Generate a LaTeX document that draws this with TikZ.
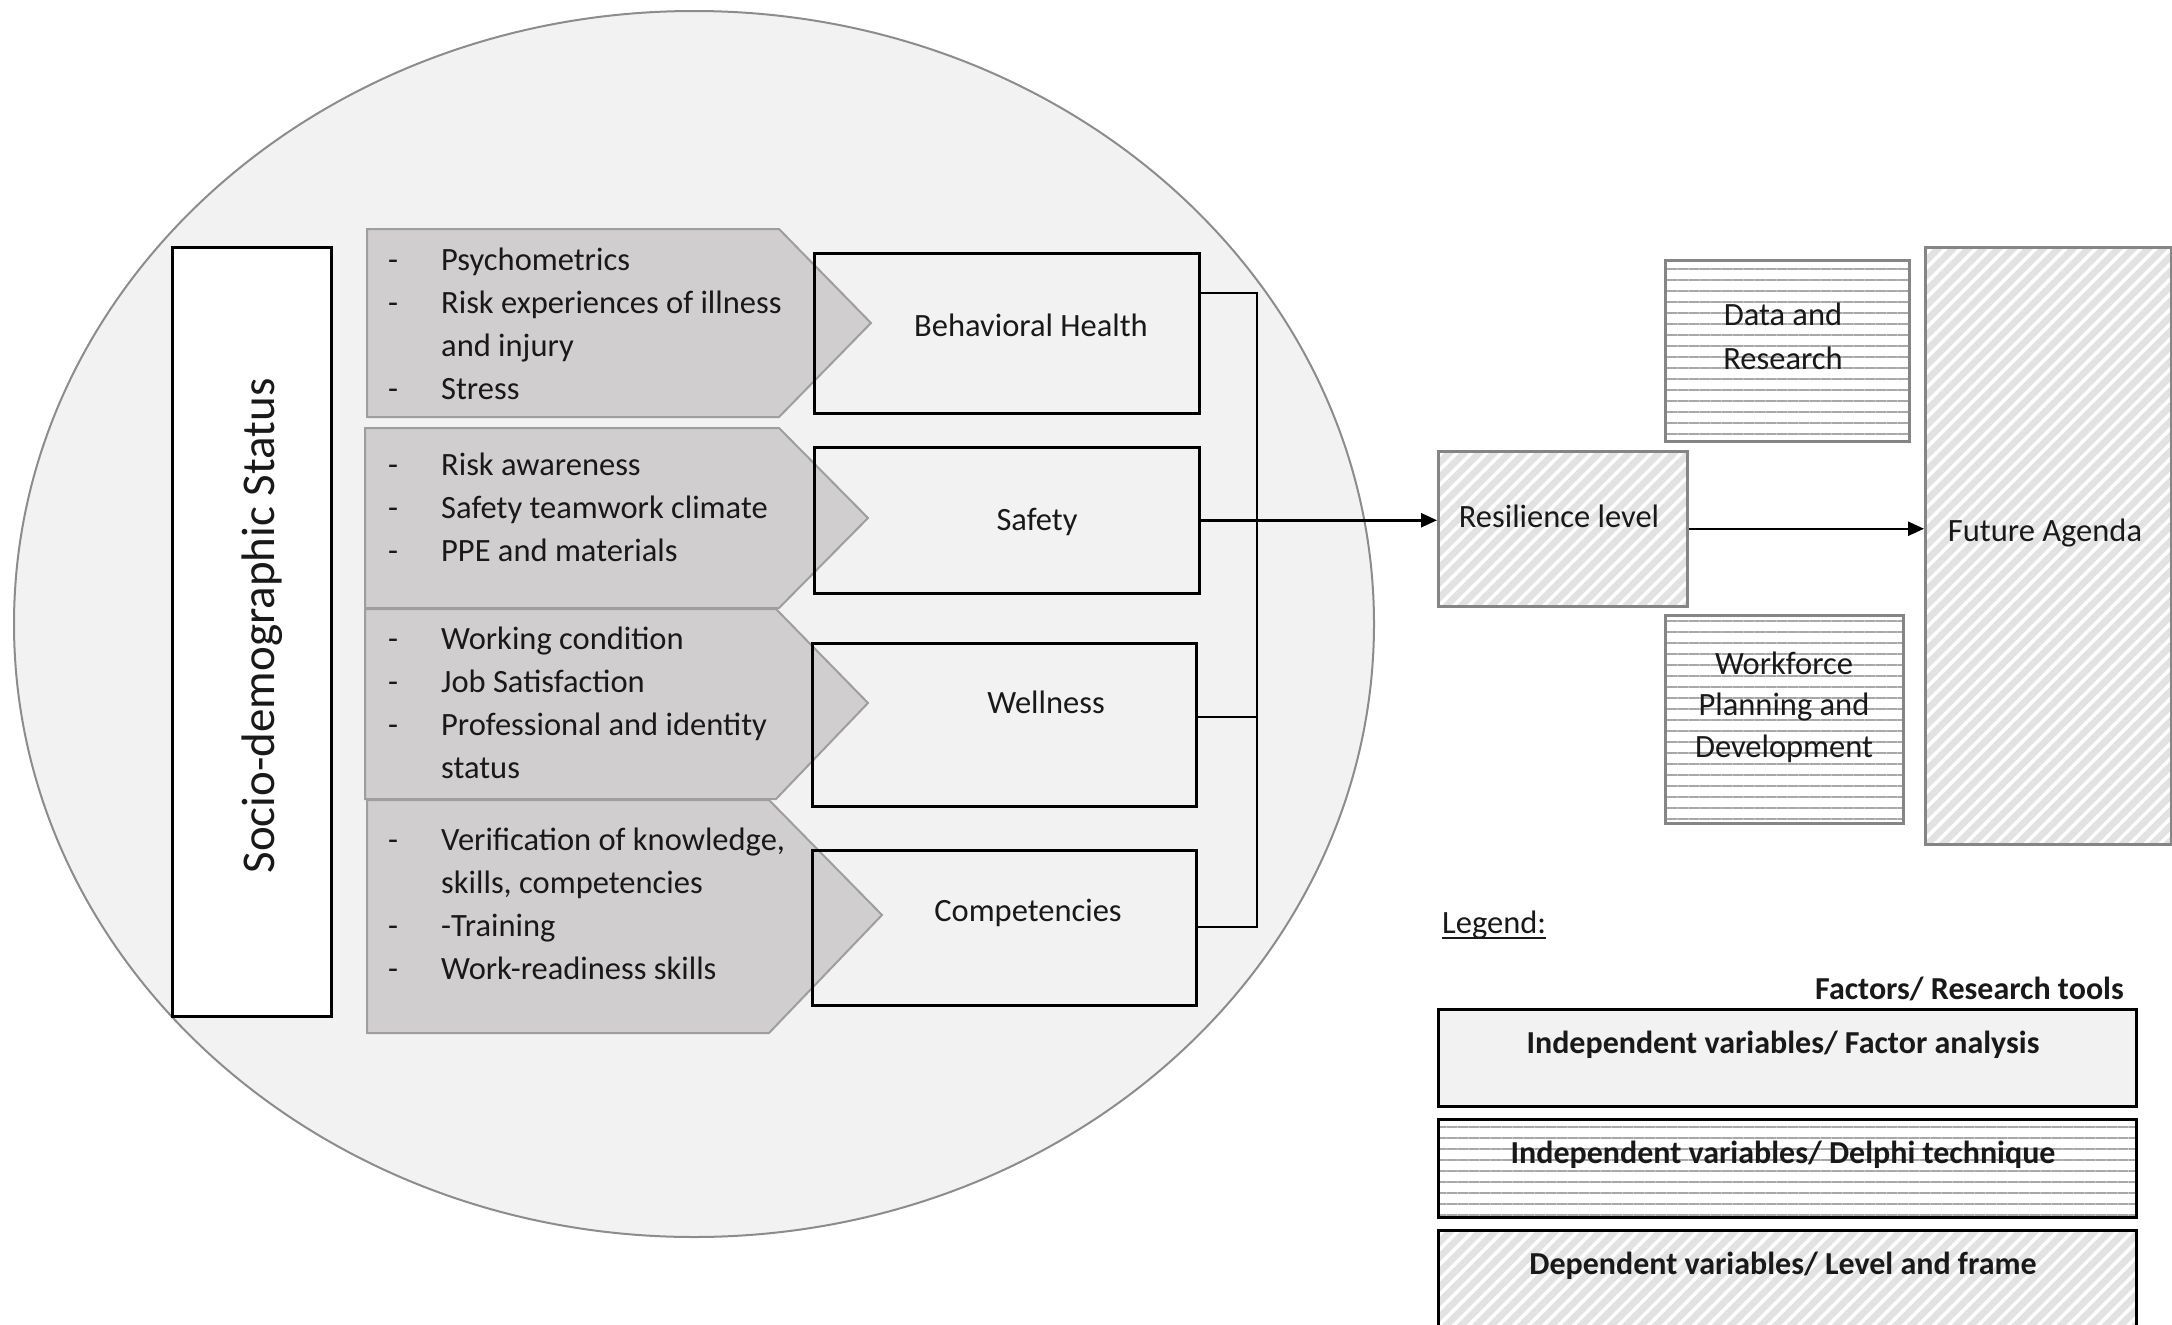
\documentclass[tikz,border=0pt]{standalone}
\usepackage{fontspec}
\setmainfont{Carlito}
\usetikzlibrary{arrows.meta,patterns.meta,shapes.geometric}
\definecolor{bgfill}{HTML}{F2F2F2}
\definecolor{chevfill}{HTML}{D0CECE}
\definecolor{chevline}{HTML}{9E9E9E}
\definecolor{ellline}{HTML}{8C8C8C}
\definecolor{hatchgray}{HTML}{E2E2E2}
\definecolor{hlinegray}{HTML}{A8A8A8}
\definecolor{boxgray}{HTML}{858585}
\newcommand{\legul}[1]{\setbox0\hbox{#1}\rlap{\rule[-6pt]{\wd0}{2pt}}\box0}
\tikzset{
  txt/.style={font=\fontsize{32.5}{43.3}\selectfont, inner sep=0pt, text=black!90},
  btxt/.style={font=\fontsize{32}{40}\selectfont\bfseries, inner sep=0pt, text=black!90},
  frame/.style={draw=black, line width=2.5pt, inner sep=0pt},
  chev/.style={fill=chevfill, draw=chevline, line width=2pt},
  diagbox/.style={preaction={fill=hatchgray}, pattern={Lines[angle=45,distance=10.6pt,line width=3.5pt]}, pattern color=white, line width=2.5pt, inner sep=0pt},
  horbox/.style={preaction={fill=white}, pattern={Lines[angle=0,distance=11pt,line width=2pt]}, pattern color=hlinegray, line width=2.5pt, inner sep=0pt},
  conn/.style={line width=2.5pt, draw=black, line join=miter},
  arr/.style={conn, -{Triangle[length=16pt,width=14pt]}},
}
\begin{document}
\begin{tikzpicture}[x=1pt,y=-1pt]
\useasboundingbox (0,0) rectangle (2172,1325);
% big ellipse
\node[ellipse, draw=ellline, fill=bgfill, line width=2pt, minimum width=1360pt, minimum height=1226pt, inner sep=0pt] (circ) at (694,624) {};
% socio-demographic box
\node[frame, fill=white, anchor=north west, minimum width=159pt, minimum height=769pt] (socio) at (171,246) {};
\node[txt, font=\fontsize{47}{56}\selectfont, rotate=90, anchor=base] (sociot) at (274,626) {Socio-demographic Status};
% chevrons
\draw[chev] (367,229) -- (779,229) -- (871,323) -- (779,417) -- (367,417) -- cycle;
\draw[chev] (365,428) -- (779,428) -- (868,518) -- (779,608) -- (365,608) -- cycle;
\draw[chev] (365,609) -- (776,609) -- (868,703) -- (776,799) -- (365,799) -- cycle;
\draw[chev] (367,800) -- (769,800) -- (882,915) -- (769,1033) -- (367,1033) -- cycle;
% bullet lists
\node[txt, anchor=base west] (l1) at (388,270) {\begin{tabular}[t]{@{}p{53pt}@{}l@{}}-&Psychometrics\\-&Risk experiences of illness\\&and injury\\-&Stress\end{tabular}};
\node[txt, anchor=base west] (l2) at (388,475) {\begin{tabular}[t]{@{}p{53pt}@{}l@{}}-&Risk awareness\\-&Safety teamwork climate\\-&PPE and materials\end{tabular}};
\node[txt, anchor=base west] (l3) at (388,649) {\begin{tabular}[t]{@{}p{53pt}@{}l@{}}-&Working condition\\-&Job Satisfaction\\-&Professional and identity\\&status\end{tabular}};
\node[txt, anchor=base west] (l4) at (388,850) {\begin{tabular}[t]{@{}p{53pt}@{}l@{}}-&Verification of knowledge,\\&skills, competencies\\-&-Training\\-&Work-readiness skills\end{tabular}};
% factor boxes
\node[frame, anchor=north west, minimum width=385pt, minimum height=160pt] (bh) at (813,252) {};
\node[frame, anchor=north west, minimum width=385pt, minimum height=146pt] (saf) at (813,446) {};
\node[frame, anchor=north west, minimum width=384pt, minimum height=163pt] (wel) at (811,642) {};
\node[frame, anchor=north west, minimum width=384pt, minimum height=155pt] (comp) at (811,849) {};
\node[txt, anchor=base] (bht) at (1031,336) {Behavioral Health};
\node[txt, anchor=base] (saft) at (1037,530) {Safety};
\node[txt, anchor=base] (welt) at (1046,713) {Wellness};
\node[txt, anchor=base] (compt) at (1028,921) {Competencies};
% right side boxes
\node[diagbox, draw=boxgray, anchor=north west, minimum width=249pt, minimum height=155pt] (res) at (1437,450) {};
\node[txt, anchor=base] (rest) at (1559,527) {Resilience level};
\node[diagbox, draw=boxgray, anchor=north west, minimum width=246pt, minimum height=597pt] (fut) at (1924,246) {};
\node[txt, anchor=base] (futt) at (2045,541) {Future Agenda};
\node[horbox, draw=boxgray, anchor=north west, minimum width=244pt, minimum height=181pt] (dat) at (1664,259) {};
\node[txt, font=\fontsize{32.5}{44}\selectfont, anchor=base] (datt) at (1783,325) {\begin{tabular}[t]{@{}c@{}}Data and\\Research\end{tabular}};
\node[horbox, draw=boxgray, anchor=north west, minimum width=238pt, minimum height=208pt] (wfp) at (1664,614) {};
\node[txt, font=\fontsize{32.5}{41.5}\selectfont, anchor=base] (wfpt) at (1784,674) {\begin{tabular}[t]{@{}c@{}}Workforce\\Planning and\\Development\end{tabular}};
% connectors
\coordinate (jt) at (1257,293);
\coordinate (jw) at (1257,717);
\coordinate (jb) at (1257,927);
\draw[conn] (bh.east |- jt) -- (jt) -- (jb) -- (comp.east |- jb);
\draw[conn] (wel.east |- jw) -- (jw);
\draw[arr] (saf.east) -- (saf.east -| res.west);
\draw[arr] (res.east) -- (res.east -| fut.west);
% legend
\node[txt, anchor=base west] (leg) at (1442,933) {\legul{Legend:}};
\node[btxt, anchor=base east] (legh) at (2124,999) {Factors/ Research tools};
\node[frame, fill=bgfill, anchor=north west, minimum width=698pt, minimum height=97pt] (lg1) at (1437,1008) {};
\node[btxt, anchor=base] (lg1t) at (1783,1053) {Independent variables/ Factor analysis};
\node[horbox, draw=black, anchor=north west, minimum width=698pt, minimum height=98pt] (lg2) at (1437,1118) {};
\node[btxt, anchor=base] (lg2t) at (1783,1163) {Independent variables/ Delphi technique};
\node[diagbox, draw=black, anchor=north west, minimum width=698pt, minimum height=115pt] (lg3) at (1437,1229) {};
\node[btxt, anchor=base] (lg3t) at (1783,1274) {Dependent variables/ Level and frame};
\end{tikzpicture}
\end{document}
